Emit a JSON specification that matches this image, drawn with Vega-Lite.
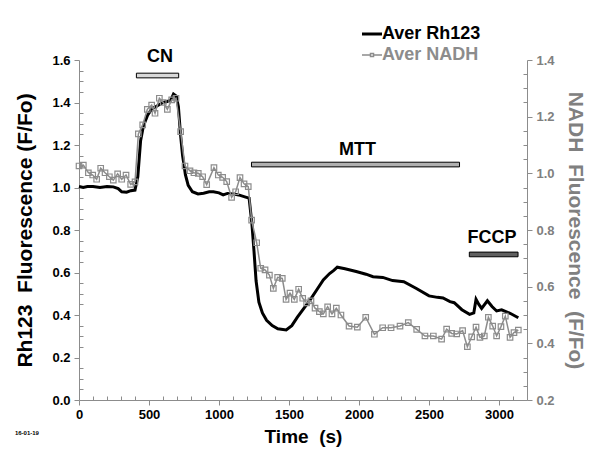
{
  "$schema": "https://vega.github.io/schema/vega-lite/v6.json",
  "width": 448,
  "height": 340,
  "autosize": "none",
  "padding": {"left": 79, "top": 60, "right": 71, "bottom": 51},
  "background": "white",
  "config": {
    "font": "Liberation Sans",
    "view": {"stroke": null},
    "axis": {"grid": false, "domainColor": "#8c8c8c", "tickColor": "#8c8c8c", "labelFontWeight": "bold", "labelFontSize": 13, "titleFontWeight": "bold", "labelFont": "Liberation Sans", "titleFont": "Liberation Sans", "labelOverlap": false, "labelFlush": false, "labelBound": false},
    "axisX": {"labelOverlap": false},
    "axisQuantitative": {"labelOverlap": false}
  },
  "datasets": {
    "rh": [
      {"t": 0, "v": 1.005}, {"t": 30, "v": 1.0}, {"t": 60, "v": 1.005}, {"t": 100, "v": 1.005}, {"t": 150, "v": 1.0},
      {"t": 200, "v": 1.005}, {"t": 245, "v": 1.003}, {"t": 280, "v": 0.995}, {"t": 305, "v": 0.98}, {"t": 340, "v": 0.978},
      {"t": 370, "v": 0.985}, {"t": 400, "v": 0.988}, {"t": 420, "v": 1.05}, {"t": 440, "v": 1.22}, {"t": 460, "v": 1.29},
      {"t": 490, "v": 1.34}, {"t": 520, "v": 1.37}, {"t": 560, "v": 1.385}, {"t": 600, "v": 1.4}, {"t": 630, "v": 1.405},
      {"t": 655, "v": 1.41}, {"t": 675, "v": 1.44}, {"t": 695, "v": 1.43}, {"t": 710, "v": 1.38}, {"t": 725, "v": 1.25},
      {"t": 740, "v": 1.15}, {"t": 760, "v": 1.06}, {"t": 780, "v": 1.01}, {"t": 810, "v": 0.98}, {"t": 850, "v": 0.97},
      {"t": 890, "v": 0.973}, {"t": 930, "v": 0.98}, {"t": 960, "v": 0.98}, {"t": 1000, "v": 0.975}, {"t": 1030, "v": 0.965},
      {"t": 1060, "v": 0.972}, {"t": 1100, "v": 0.97}, {"t": 1140, "v": 0.965}, {"t": 1190, "v": 0.955}, {"t": 1215, "v": 0.95},
      {"t": 1235, "v": 0.83}, {"t": 1250, "v": 0.7}, {"t": 1265, "v": 0.56}, {"t": 1285, "v": 0.46}, {"t": 1310, "v": 0.41},
      {"t": 1340, "v": 0.375}, {"t": 1380, "v": 0.35}, {"t": 1420, "v": 0.335}, {"t": 1480, "v": 0.33}, {"t": 1520, "v": 0.35},
      {"t": 1560, "v": 0.39}, {"t": 1610, "v": 0.435}, {"t": 1650, "v": 0.47}, {"t": 1700, "v": 0.52}, {"t": 1745, "v": 0.565},
      {"t": 1790, "v": 0.595}, {"t": 1820, "v": 0.61}, {"t": 1845, "v": 0.625}, {"t": 1900, "v": 0.618}, {"t": 1980, "v": 0.605},
      {"t": 2050, "v": 0.592}, {"t": 2100, "v": 0.58}, {"t": 2170, "v": 0.577}, {"t": 2240, "v": 0.562}, {"t": 2320, "v": 0.557},
      {"t": 2410, "v": 0.525}, {"t": 2500, "v": 0.49}, {"t": 2560, "v": 0.483}, {"t": 2600, "v": 0.48}, {"t": 2650, "v": 0.463},
      {"t": 2680, "v": 0.458}, {"t": 2735, "v": 0.425}, {"t": 2790, "v": 0.403}, {"t": 2820, "v": 0.41}, {"t": 2836, "v": 0.474},
      {"t": 2856, "v": 0.45}, {"t": 2876, "v": 0.431}, {"t": 2917, "v": 0.467}, {"t": 2950, "v": 0.44}, {"t": 2983, "v": 0.419},
      {"t": 3019, "v": 0.424}, {"t": 3079, "v": 0.408}, {"t": 3138, "v": 0.387}
    ],
    "nadh": [
      {"t": 0, "v": 1.026}, {"t": 31, "v": 1.029}, {"t": 67, "v": 1.002}, {"t": 98, "v": 0.994}, {"t": 126, "v": 0.979},
      {"t": 155, "v": 1.018}, {"t": 186, "v": 1.002}, {"t": 217, "v": 0.988}, {"t": 245, "v": 0.976}, {"t": 276, "v": 0.998},
      {"t": 305, "v": 0.979}, {"t": 336, "v": 0.994}, {"t": 369, "v": 0.961}, {"t": 400, "v": 0.97}, {"t": 424, "v": 1.139},
      {"t": 455, "v": 1.171}, {"t": 488, "v": 1.226}, {"t": 519, "v": 1.241}, {"t": 543, "v": 1.212}, {"t": 574, "v": 1.265},
      {"t": 602, "v": 1.25}, {"t": 631, "v": 1.226}, {"t": 662, "v": 1.259}, {"t": 693, "v": 1.265}, {"t": 726, "v": 1.147},
      {"t": 757, "v": 1.026}, {"t": 793, "v": 1.009}, {"t": 821, "v": 1.002}, {"t": 852, "v": 1.0}, {"t": 883, "v": 0.988},
      {"t": 912, "v": 0.96}, {"t": 964, "v": 1.02}, {"t": 995, "v": 0.994}, {"t": 1026, "v": 0.986}, {"t": 1055, "v": 0.971},
      {"t": 1090, "v": 0.915}, {"t": 1119, "v": 0.935}, {"t": 1150, "v": 0.985}, {"t": 1179, "v": 0.963}, {"t": 1209, "v": 0.953},
      {"t": 1233, "v": 0.835}, {"t": 1269, "v": 0.755}, {"t": 1298, "v": 0.665}, {"t": 1329, "v": 0.659}, {"t": 1360, "v": 0.641},
      {"t": 1388, "v": 0.594}, {"t": 1419, "v": 0.633}, {"t": 1452, "v": 0.629}, {"t": 1479, "v": 0.555}, {"t": 1507, "v": 0.577},
      {"t": 1538, "v": 0.555}, {"t": 1569, "v": 0.591}, {"t": 1598, "v": 0.559}, {"t": 1626, "v": 0.543}, {"t": 1657, "v": 0.55},
      {"t": 1686, "v": 0.524}, {"t": 1717, "v": 0.512}, {"t": 1745, "v": 0.504}, {"t": 1776, "v": 0.529}, {"t": 1807, "v": 0.504},
      {"t": 1838, "v": 0.524}, {"t": 1871, "v": 0.5}, {"t": 1929, "v": 0.461}, {"t": 1988, "v": 0.457}, {"t": 2048, "v": 0.492},
      {"t": 2110, "v": 0.432}, {"t": 2169, "v": 0.455}, {"t": 2229, "v": 0.455}, {"t": 2293, "v": 0.461}, {"t": 2352, "v": 0.473},
      {"t": 2412, "v": 0.449}, {"t": 2471, "v": 0.426}, {"t": 2531, "v": 0.426}, {"t": 2590, "v": 0.415}, {"t": 2626, "v": 0.45},
      {"t": 2662, "v": 0.435}, {"t": 2698, "v": 0.433}, {"t": 2740, "v": 0.445}, {"t": 2774, "v": 0.388}, {"t": 2805, "v": 0.423},
      {"t": 2836, "v": 0.457}, {"t": 2864, "v": 0.421}, {"t": 2895, "v": 0.426}, {"t": 2924, "v": 0.492}, {"t": 2955, "v": 0.461},
      {"t": 2983, "v": 0.426}, {"t": 3014, "v": 0.459}, {"t": 3045, "v": 0.496}, {"t": 3079, "v": 0.421}, {"t": 3107, "v": 0.438},
      {"t": 3138, "v": 0.447}
    ],
    "bars": [
      {"name": "CN", "t": 410, "t1": 712, "v": 1.516, "v1": 1.538},
      {"name": "MTT", "t": 1232, "t1": 2718, "v": 1.097, "v1": 1.119},
      {"name": "FCCP", "t": 2788, "t1": 3136, "v": 0.674, "v1": 0.696}
    ],
    "labels": [
      {"name": "CN", "t": 578, "v": 1.59},
      {"name": "MTT", "t": 1989, "v": 1.153},
      {"name": "FCCP", "t": 2950, "v": 0.739}
    ],
    "note": [{"label": "16-01-19", "t": -372, "v": -0.155}]
  },
  "encoding": {
    "x": {
      "field": "t", "type": "quantitative",
      "scale": {"domain": [0, 3200], "nice": false},
      "axis": {
        "values": [0,100,200,300,400,500,600,700,800,900,1000,1100,1200,1300,1400,1500,1600,1700,1800,1900,2000,2100,2200,2300,2400,2500,2600,2700,2800,2900,3000,3100,3200],
        "labelExpr": "datum.value % 500 === 0 ? '' + datum.value : ''",
        "labelOverlap": false, "labelFlush": false,
        "tickSize": {"condition": {"test": "datum.value % 500 === 0", "value": 5}, "value": -4},
        "labelColor": "black", "labelPadding": 3,
        "title": "Time\u00a0 (s)", "titleFontSize": 19, "titleColor": "black", "titlePadding": 6
      }
    }
  },
  "layer": [
    {
      "encoding": {
        "y": {
          "field": "v", "type": "quantitative",
          "scale": {"domain": [0, 1.6], "nice": false},
          "axis": {
            "values": [0,0.05,0.1,0.15,0.2,0.25,0.3,0.35,0.4,0.45,0.5,0.55,0.6,0.65,0.7,0.75,0.8,0.85,0.9,0.95,1.0,1.05,1.1,1.15,1.2,1.25,1.3,1.35,1.4,1.45,1.5,1.55,1.6],
            "labelExpr": "round(datum.value*100) % 20 === 0 ? format(datum.value, '.1f') : ''",
            "labelOverlap": false,
            "tickSize": {"condition": {"test": "round(datum.value*100) % 20 === 0", "value": 5}, "value": -4},
            "labelColor": "black", "labelPadding": 4,
            "title": "Rh123\u00a0 Fluorescence (F/Fo)", "titleFontSize": 21, "titleColor": "black", "titlePadding": 16
          }
        }
      },
      "layer": [
        {
          "data": {"name": "rh"},
          "mark": {"type": "line", "strokeWidth": 3},
          "encoding": {
            "color": {"datum": "Aver Rh123", "type": "nominal", "scale": {"domain": ["Aver Rh123", "Aver NADH"], "range": ["black", "#8c8c8c"]},
              "legend": {
                "orient": "none", "legendX": 284, "legendY": -35, "title": null, "direction": "vertical",
                "labelFontSize": 18, "labelFontWeight": "bold", "labelFont": "Liberation Sans", "labelOffset": 1,
                "symbolSize": 400, "symbolType": "stroke", "rowPadding": 3,
                "encode": {
                  "labels": {"update": {"fill": {"signal": "datum.value === 'Aver NADH' ? '#8c8c8c' : 'black'"}}},
                  "symbols": {"update": {
                    "shape": {"signal": "datum.value === 'Aver NADH' ? 'M-1,0H-0.15M0.15,0H1M-0.15,-0.15H0.15V0.15H-0.15Z' : 'M-1,0H1'"},
                    "strokeWidth": {"signal": "datum.value === 'Aver NADH' ? 1.5 : 3"},
                    "fill": {"value": "transparent"}
                  }}
                }
              }
            }
          }
        },
        {
          "data": {"name": "bars"},
          "mark": {"type": "rect", "stroke": "black", "strokeWidth": 1},
          "encoding": {
            "x2": {"field": "t1"},
            "y2": {"field": "v1"},
            "fill": {"field": "name", "type": "nominal", "scale": {"domain": ["CN", "MTT", "FCCP"], "range": ["#d9d9d9", "#b0b0b0", "#606060"]}, "legend": null}
          }
        },
        {
          "data": {"name": "labels"},
          "mark": {"type": "text", "fontSize": 18, "fontWeight": "bold", "baseline": "alphabetic", "align": "center", "color": "black"},
          "encoding": {
            "text": {"field": "name"}
          }
        },
        {
          "data": {"name": "note"},
          "mark": {"type": "text", "fontSize": 6, "fontWeight": "bold", "baseline": "middle", "align": "center", "color": "black", "clip": false},
          "encoding": {
            "text": {"field": "label"}
          }
        }
      ]
    },
    {
      "data": {"name": "nadh"},
      "mark": {"type": "line", "strokeWidth": 1.5, "point": {"shape": "square", "filled": false, "size": 30, "strokeWidth": 1.2}},
      "encoding": {
        "y": {
          "field": "v", "type": "quantitative",
          "scale": {"domain": [0.2, 1.4], "nice": false},
          "axis": {
            "orient": "right",
            "values": [0.2,0.25,0.3,0.35,0.4,0.45,0.5,0.55,0.6,0.65,0.7,0.75,0.8,0.85,0.9,0.95,1.0,1.05,1.1,1.15,1.2,1.25,1.3,1.35,1.4],
            "labelExpr": "round(datum.value*100) % 20 === 0 ? format(datum.value, '.1f') : ''",
            "labelOverlap": false,
            "tickSize": {"condition": {"test": "round(datum.value*100) % 20 === 0", "value": 5}, "value": -4},
            "labelColor": "#808080", "labelPadding": 4,
            "title": "NADH\u00a0 Fluorescence\u00a0 (F/Fo)", "titleFontSize": 21, "titleColor": "#808080", "titlePadding": 10
          }
        },
        "color": {"datum": "Aver NADH", "type": "nominal"}
      }
    }
  ],
  "resolve": {"scale": {"y": "independent"}}
}
